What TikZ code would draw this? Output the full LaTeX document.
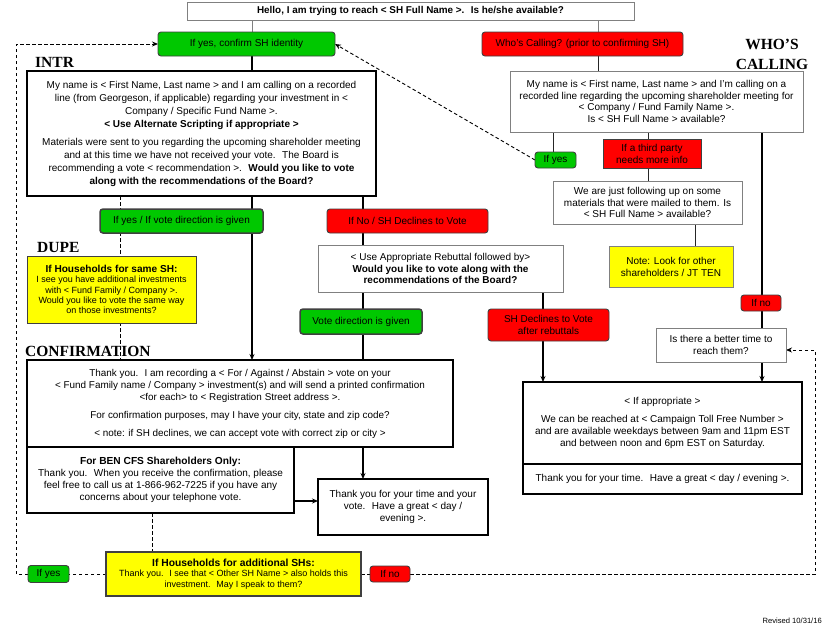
\documentclass[tikz,border=0pt]{standalone}
\usepackage{fontspec}
\setmainfont{Liberation Sans}
\newfontfamily\titlefont{Liberation Serif}
\usetikzlibrary{arrows.meta}
\pgfdeclarelayer{background}
\pgfsetlayers{background,main}
\definecolor{cgreen}{RGB}{0,200,0}
\definecolor{cred}{RGB}{255,0,0}
\definecolor{cyellow}{RGB}{255,255,0}
\definecolor{cgray}{RGB}{128,128,128}
\begin{document}
\begin{tikzpicture}[x=1pt,y=-1pt,
 base/.style={inner sep=0pt, outer sep=0pt, align=center, font=\fontsize{10}{12.5}\selectfont},
 gbox/.style={base, draw=cgray, line width=0.9pt, fill=white},
 tbox/.style={base, draw=black, line width=1.7pt, fill=white},
 gpill/.style={base, draw=black!75, line width=0.9pt, fill=cgreen, rounded corners=3pt},
 rpill/.style={base, draw=black!75, line width=0.9pt, fill=cred, rounded corners=3pt},
 ybox/.style={base, draw=black!75, line width=0.9pt, fill=cyellow},
 ttl/.style={font=\titlefont\bfseries\fontsize{15.5}{20}\selectfont, inner sep=0pt},
 thinline/.style={draw=black!85, line width=0.9pt},
 thickline/.style={draw=black, line width=1.6pt},
 dsh/.style={draw=black, line width=0.9pt, dash pattern=on 3.5pt off 2.5pt},
 arr/.style={-{Stealth[length=6pt,width=5pt]}},
]
\useasboundingbox (0,0) rectangle (840,629);

% column / row helper coordinates
\coordinate (cA) at (252,0);
\coordinate (cB) at (363,0);
\coordinate (cC) at (543,0);
\coordinate (cD) at (598,0);
\coordinate (cE) at (553,0);
\coordinate (cF) at (648,0);
\coordinate (cG) at (695,0);
\coordinate (cH) at (762,0);
\coordinate (cI) at (120,0);
\coordinate (cJ) at (152,0);
\coordinate (cL) at (16,0);
\coordinate (cR) at (815,0);
\coordinate (r501) at (0,501);
\coordinate (r350) at (0,350);

% titles
\node[ttl, anchor=west] (tintr) at (35,62) {INTR};
\node[ttl, anchor=west] (tdupe) at (37,247) {DUPE};
\node[ttl, anchor=west] (tconf) at (25,351) {CONFIRMATION};
\node[ttl, align=center] (twho) at (772,54) {WHO’S\\CALLING};

% nodes
\node[gbox, minimum width=447pt, minimum height=18pt, font=\bfseries\fontsize{9.9}{11}\selectfont] (top) at (410.5,11)
 {Hello, I am trying to reach < SH Full Name >.~ Is he/she available?};

\node[gpill, minimum width=177pt, minimum height=24pt] (confirm) at (246.5,44) {If yes, confirm SH identity};
\node[rpill, minimum width=201pt, minimum height=24pt] (whocall) at (582.5,44) {Who’s Calling? (prior to confirming SH)};

\node[tbox, minimum width=349pt, minimum height=125pt, font=\fontsize{10}{13}\selectfont] (intr) at (201.5,133.5)
 {My name is < First Name, Last name > and I am calling on a recorded\\
  line (from Georgeson, if applicable) regarding your investment in <\\
  Company / Specific Fund Name >.\\
  \textbf{< Use Alternate Scripting if appropriate >}\\[5pt]
  Materials were sent to you regarding the upcoming shareholder meeting\\
  and at this time we have not received your vote.~ The Board is\\
  recommending a vote < recommendation >.~ \textbf{Would you like to vote}\\
  \textbf{along with the recommendations of the Board?}};

\node[gbox, minimum width=293pt, minimum height=61pt, font=\fontsize{10}{11.7}\selectfont] (wcbox) at (656.5,101.5)
 {My name is < First name, Last name > and I’m calling on a\\
  recorded line regarding the upcoming shareholder meeting for\\
  < Company / Fund Family Name >.\\
  Is < SH Full Name > available?};

\node[gpill, minimum width=41pt, minimum height=16pt] (ifyes1) at (555.5,160) {If yes};
\node[rpill, rounded corners=0pt, minimum width=98pt, minimum height=29pt, font=\fontsize{10}{12}\selectfont] (third) at (652,153.5) {If a third party\\needs more info};
\node[gbox, minimum width=189pt, minimum height=43pt, font=\fontsize{10}{11.7}\selectfont] (follow) at (647.5,202.5)
 {We are just following up on some\\materials that were mailed to them. Is\\< SH Full Name > available?};
\node[ybox, draw=cgray, minimum width=124pt, minimum height=41pt, font=\fontsize{10}{12}\selectfont] (note) at (671,266.5) {Note: Look for other\\shareholders / JT TEN};
\node[rpill, minimum width=40pt, minimum height=16pt] (ifno1) at (761,303) {If no};
\node[gbox, minimum width=130pt, minimum height=34pt, font=\fontsize{10}{12}\selectfont] (better) at (721,345) {Is there a better time to\\reach them?};

\node[tbox, line width=1.3pt, minimum width=279pt, minimum height=82pt, font=\fontsize{10}{12}\selectfont] (appt) at (662.5,423)
 {< If appropriate >\\[6pt]
  We can be reached at < Campaign Toll Free Number >\\
  and are available weekdays between 9am and 11pm EST\\
  and between noon and 6pm EST on Saturday.};
\node[tbox, line width=1.3pt, minimum width=279pt, minimum height=30pt, font=\fontsize{10}{12}\selectfont] (appt2) at (662.5,479)
 {Thank you for your time.~ Have a great < day / evening >.};

\node[gpill, line width=1.5pt, minimum width=163pt, minimum height=24pt] (yesvote) at (181.5,221) {If yes / If vote direction is given};
\node[rpill, minimum width=161pt, minimum height=24pt] (novote) at (407.5,221) {If No / SH Declines to Vote};

\node[ybox, minimum width=169pt, minimum height=67pt, font=\fontsize{9}{10.3}\selectfont] (dupe) at (111.5,289.5)
 {{\bfseries\fontsize{10.1}{11}\selectfont If Households for same SH:}\\
  I see you have additional investments\\
  with < Fund Family / Company >.\\
  Would you like to vote the same way\\
  on those investments?};

\node[gbox, minimum width=245pt, minimum height=47pt, font=\fontsize{10}{11.5}\selectfont] (rebut) at (440.5,268.5)
 {< Use Appropriate Rebuttal followed by>\\
  \textbf{Would you like to vote along with the}\\
  \textbf{recommendations of the Board?}};

\node[gpill, line width=1.5pt, minimum width=122pt, minimum height=25pt] (votedir) at (361,321.5) {Vote direction is given};
\node[rpill, minimum width=121pt, minimum height=32pt, font=\fontsize{10}{12}\selectfont] (declines) at (548.5,325) {SH Declines to Vote\\after rebuttals};

\node[tbox, minimum width=426pt, minimum height=87pt, font=\fontsize{9.9}{12}\selectfont] (confbox) at (240,403.5)
 {Thank you.~ I am recording a < For / Against / Abstain > vote on your\\
  < Fund Family name / Company > investment(s) and will send a printed confirmation\\
  <for each> to < Registration Street address >.\\[6pt]
  For confirmation purposes, may I have your city, state and zip code?\\[6pt]
  < note: if SH declines, we can accept vote with correct zip or city >};

\node[tbox, minimum width=267pt, minimum height=66pt, font=\fontsize{10}{12}\selectfont] (ben) at (160.5,480)
 {{\bfseries\fontsize{10.2}{12}\selectfont For BEN CFS Shareholders Only:}\\
  Thank you.~ When you receive the confirmation, please\\
  feel free to call us at 1-866-962-7225 if you have any\\
  concerns about your telephone vote.};

\node[tbox, minimum width=170pt, minimum height=56pt, font=\fontsize{10}{12}\selectfont] (thanks) at (403,507)
 {Thank you for your time and your\\vote.~ Have a great < day /\\evening >.};

\node[ybox, line width=1.1pt, minimum width=255pt, minimum height=44pt, font=\fontsize{9}{10.5}\selectfont] (hh) at (233.5,574)
 {{\bfseries\fontsize{10.3}{11}\selectfont If Households for additional SHs:}\\
  Thank you.~ I see that < Other SH Name > also holds this\\
  investment.~ May I speak to them?};

\node[gpill, minimum width=41pt, minimum height=17pt] (ifyes2) at (48.5,574) {If yes};
\node[rpill, minimum width=40pt, minimum height=16pt] (ifno2) at (390,574) {If no};

\node[anchor=east, inner sep=0pt, font=\fontsize{7.6}{9}\selectfont] (rev) at (822,621) {Revised 10/31/16};

% connectors
\begin{pgfonlayer}{background}
\fill[white] (0,0) rectangle (840,629);
\draw[thinline, draw=cgray] (top.south -| cA) -- (confirm.north -| cA);
\draw[thinline, draw=cgray] (top.south -| cD) -- (whocall.north -| cD);
\draw[thickline] (confirm.south -| cA) -- (intr.north -| cA);
\draw[thinline] (whocall.south -| cD) -- (wcbox.north -| cD);
\draw[thickline, arr] (intr.south -| cA) -- (confbox.north -| cA);
\draw[thickline] (intr.south -| cB) -- (confbox.north -| cB);
\draw[thickline, line width=1.3pt, arr] (rebut.south -| cC) -- (appt.north -| cC);
\draw[thinline] (wcbox.south -| cE) -- (ifyes1.north -| cE);
\draw[thinline] (wcbox.south -| cF) -- (follow.north -| cF);
\draw[thinline] (follow.south -| cG) -- (note.north -| cG);
\draw[thickline, line width=1.2pt, arr] (wcbox.south -| cH) -- (appt.north -| cH);
\draw[thickline, arr] (confbox.south -| cB) -- (thanks.north -| cB);
\draw[thickline, arr] (ben.east |- r501) -- (thanks.west |- r501);
\draw[dsh] (intr.south -| cI) -- (confbox.north -| cI);
\draw[dsh] (ben.south -| cJ) -- (hh.north -| cJ);
\draw[dsh, arr] (ifyes1.west) -- (confirm.east);
\draw[dsh] (hh.west) -- (ifyes2.east);
\draw[dsh, arr] (ifyes2.west) -- (cL |- ifyes2.west) -- (cL |- confirm.west) -- (confirm.west);
\draw[dsh] (hh.east) -- (ifno2.west);
\draw[dsh, arr] (ifno2.east) -- (cR |- ifno2.east) -- (cR |- r350) -- (better.east |- r350);
\end{pgfonlayer}
\end{tikzpicture}
\end{document}
